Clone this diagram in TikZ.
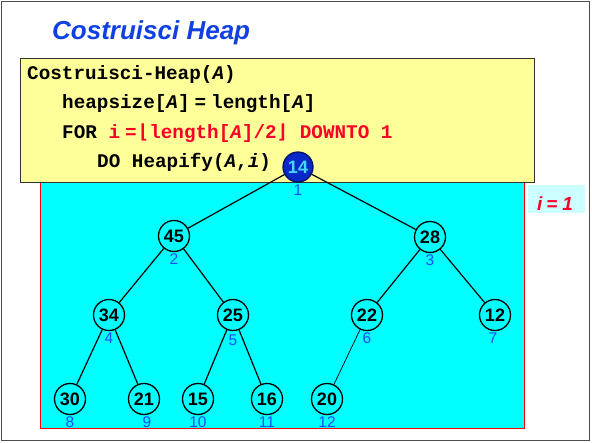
\documentclass[tikz,border=0pt]{standalone}
\usepackage{fontspec}
\setmainfont{Liberation Sans}
\newfontfamily\codefont{Liberation Mono}
\newfontfamily\floorfont{DejaVu Sans Mono}
\usetikzlibrary{positioning}

\definecolor{titleblue}{RGB}{16,64,224}
\definecolor{codered}{RGB}{250,0,40}
\definecolor{noteyellow}{RGB}{255,255,153}
\definecolor{heapcyan}{RGB}{0,255,255}
\definecolor{paleblue}{RGB}{204,255,255}
\definecolor{idxblue}{RGB}{26,77,255}
\definecolor{rootblue}{RGB}{8,40,200}
\definecolor{roottext}{RGB}{70,215,255}

\newcommand{\lfl}{{\floorfont\bfseries ⌊}}
\newcommand{\rfl}{{\floorfont\bfseries ⌋}}

\tikzset{
  key/.style={circle, draw, line width=1.3pt, minimum size=31pt, inner sep=0pt,
    font=\fontsize{18}{18}\selectfont\bfseries},
  idx/.style={text=idxblue, inner sep=0pt, font=\fontsize{15.5}{15.5}\selectfont},
  codeline/.style={anchor=base west, inner sep=0pt,
    font=\codefont\fontsize{19.3}{23}\selectfont\bfseries},
  link/.style={line width=1.2pt}
}

\begin{document}
\begin{tikzpicture}[x=1pt, y=-1pt, label distance=1.5pt]
\useasboundingbox (0,0) rectangle (592,442);
% slide frame and title
\draw[line width=1.5pt, black!70] (1.5,1.5) rectangle (589.5,440.5);
\node[anchor=base west, inner sep=0pt, text=titleblue,
  font=\fontsize{26}{26}\selectfont\bfseries\itshape] (title) at (52,39.5) {Costruisci Heap};

% area behind the heap
\fill[heapcyan] (40.5,176) rectangle (524.5,428.5);
\draw[red, line width=1pt] (40.5,176) rectangle (524.5,428.5);

% pseudocode
\draw[fill=noteyellow, draw=black!80, line width=1pt] (20.5,58.5) rectangle (534,182);
\node[codeline] (c1) at (27,79.5) {Costruisci-Heap(\textit{A})};
\node[codeline] (c2) at (62,108.5) {heapsize[\textit{A}]\kern5pt=\kern5pt length[\textit{A}]};
\node[codeline] (c3) at (62,138.5) {FOR \textcolor{codered}{i\kern5pt=\kern1pt\lfl length[\textit{A}]/2\rfl\ DOWNTO 1}};
\node[codeline] (c4) at (97,167.5) {DO Heapify(\textit{A},\textit{i})};

% current index
\node[fill=paleblue, text=codered, minimum width=57pt, text height=23pt, text depth=0pt,
  inner ysep=2.5pt, font=\fontsize{19}{19}\selectfont\bfseries\itshape] (step) at (556.5,199) {i\kern4pt=\kern5pt1\kern3pt};

% heap
\node[key, fill=rootblue, draw=rootblue!50!black, text=roottext, minimum size=30pt,
  label={[idx]below:1}] (n1) at (298,167) {14};
\node[key, label={[idx]below:2}] (n2) at (174,236) {45};
\node[key, label={[idx]below:3}] (n3) at (430,237) {28};
\node[key, label={[idx]below:4}] (n4) at (109,315) {34};
\node[key, label={[idx,yshift=-2pt]below:5}] (n5) at (233,315) {25};
\node[key, label={[idx]below:6}] (n6) at (367,315) {22};
\node[key, label={[idx,xshift=-2pt]below:7}] (n7) at (495,315) {12};
\node[key, label={[idx]below:8}] (n8) at (70,399) {30};
\node[key, label={[idx,xshift=3pt]below:9}] (n9) at (144,399) {21};
\node[key, label={[idx]below:10}] (n10) at (198,399) {15};
\node[key, label={[idx]below:11}] (n11) at (267,399) {16};
\node[key, label={[idx]below:12}] (n12) at (327,399) {20};

\foreach \a/\b in {1/2,1/3,2/4,2/5,3/6,3/7,4/8,4/9,5/10,5/11}
  \draw[link] (n\a) -- (n\b);
\draw[line width=0.7pt] (n6) -- (n12);
\end{tikzpicture}
\end{document}
